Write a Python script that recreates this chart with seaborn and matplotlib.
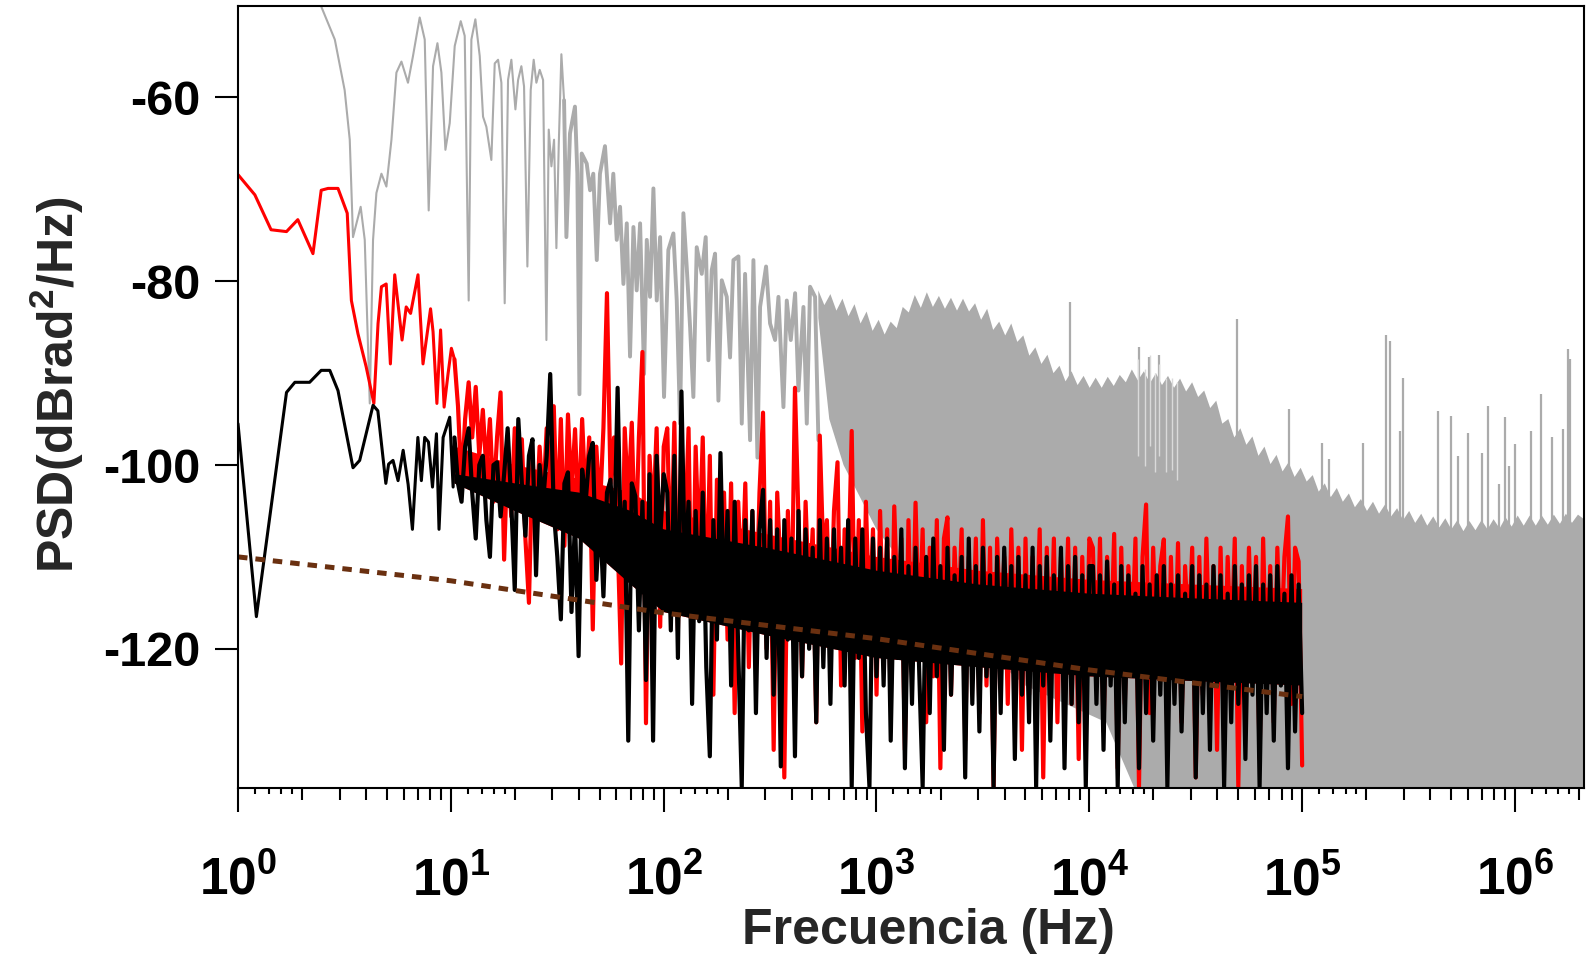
import numpy as np
import matplotlib
matplotlib.use("Agg")
import matplotlib.pyplot as plt
from matplotlib.ticker import FixedLocator, LogLocator, NullLocator, NullFormatter
import seaborn as sns

# ------------------------------------------------------------------ data
# grey spectrum, low/mid frequency part (Hz, dB)
gray_f = [2.0, 2.25, 2.46, 2.85, 3.17, 3.35, 3.47, 3.77, 3.94, 4.16,
          4.31, 4.47, 4.72, 4.98, 5.26, 5.55, 5.86, 6.29, 6.64, 7.14,
          7.54, 7.87, 8.25, 8.65, 9.03, 9.43, 9.88, 10.43, 11.13, 11.62,
          12.13, 12.49, 13.04, 13.67, 14.17, 14.69, 15.5, 16.08, 16.67, 17.28,
          17.91, 18.57, 19.25, 20.11, 20.7, 21.45, 22.08, 22.89, 23.73, 24.51,
          25.23, 26.16, 27.13, 28.12, 28.84, 29.69, 30.55, 31.33, 32.13, 33.07,
          34.04, 34.91, 36.3, 38.3, 39.3, 40.2, 41.2, 43.5, 45.1, 46.7,
          48.5, 50.2, 53.0, 54.4, 56.0, 58.0, 60.2, 62.4, 64.7, 67.1,
          69.5, 72.1, 74.7, 77.5, 80.9, 83.3, 86.3, 89.5, 92.8, 96.2,
          100.4, 105.2, 111.1, 115.2, 119.4, 123.8, 128.3, 133.1, 137.9, 143,
          151, 157.6, 162.3, 168.2, 174.4, 180.8, 187.5, 197.9, 205.1, 212.7,
          224.5, 232.8, 241.3, 254.7, 264.1, 275.8, 283.8, 302.8, 316.2, 333.9,
          346.2, 365.4, 378.8, 395.6, 414.6, 429.8, 453.7, 470.4, 487.5, 514.5,
          533.4]
gray_v = [-42, -46.5, -50.1, -53.7, -59.2, -64.6, -75.2, -71.9, -75.5, -93.3,
          -75.5, -70.4, -68.3, -69.7, -64.6, -57.3, -56.1, -58.4, -55.5, -51.3,
          -53.7, -72.3, -56.6, -54.1, -57.3, -65.7, -62.8, -54.4, -51.7, -53.3,
          -82.1, -53.7, -51.5, -55.5, -62.1, -63.2, -66.8, -56.3, -55.9, -58.4,
          -82.4, -58.1, -55.9, -61.3, -58.1, -56.6, -58.8, -78.4, -59.2, -55.9,
          -58.4, -57.0, -58.1, -86.4, -63.5, -67.5, -64.6, -76.4, -65.3, -55.3,
          -60.3, -75.2, -63.9, -61.0, -68.3, -92.3, -66.1, -67.2, -70.1, -68.3,
          -77.7, -68.3, -65.3, -69.3, -73.7, -68.3, -75.5, -71.9, -80.3, -73.7,
          -88.2, -74.1, -81.0, -73.7, -90.1, -75.5, -81.7, -69.9, -82.1, -75.2,
          -92.6, -76.6, -74.8, -82.1, -95.5, -72.6, -78.4, -85.0, -92.6, -76.3,
          -79.2, -75.2, -88.6, -78.8, -77.0, -93.0, -79.9, -81.7, -88.3, -77.7,
          -77.3, -95.5, -79.2, -97.3, -77.7, -99.2, -82.8, -78.4, -84.6, -86.4,
          -81.7, -93.7, -82.1, -86.4, -81.3, -91.9, -82.8, -95.5, -80.6, -81.7,
          -97.3]

# grey dense region: upper envelope on a log grid 533 Hz .. 2.11 MHz
gray_env_range = (533.0, 2.11e6)
gray_env_top = [-81.0, -82.6, -81.4, -83.2, -81.9, -83.8, -82.5, -84.6, -83.3, -85.4,
                -84.2, -85.8, -84.4, -85.1, -82.8, -83.4, -81.5, -82.9, -81.2, -82.8,
                -81.6, -83.0, -81.8, -83.2, -81.9, -83.3, -82.4, -84.2, -83.0, -85.3,
                -84.4, -85.9, -84.6, -86.6, -85.9, -88.1, -87.2, -89.0, -88.0, -90.0,
                -89.2, -90.9, -89.8, -91.3, -90.3, -91.6, -90.5, -91.6, -90.4, -91.4,
                -90.2, -91.0, -89.6, -90.8, -89.8, -91.1, -90.0, -91.3, -90.3, -91.6,
                -90.6, -92.0, -91.0, -92.6, -91.9, -93.8, -93.0, -95.5, -95.0, -97.0,
                -96.0, -97.8, -96.9, -99.0, -98.0, -99.9, -98.9, -100.7, -99.7, -101.3,
                -100.3, -101.8, -101.1, -102.9, -102.0, -103.5, -102.5, -104.0, -103.1, -104.6,
                -103.7, -105.0, -104.0, -105.3, -104.3, -105.6, -104.7, -106.0, -105.0, -106.3,
                -105.3, -106.6, -105.6, -106.8, -105.8, -107.0, -106.0, -107.2, -106.1, -107.1,
                -106.0, -107.0, -105.9, -106.9, -105.7, -106.7, -105.5, -106.6, -105.5, -106.6,
                -105.5, -106.5, -105.4, -106.4, -105.3, -106.3, -105.4, -105.9]
# lower edge of the grey region (from high to low frequency)
gray_floor_f = [2.11e6, 2.0e4, 1.2e4, 5000, 2000, 1000, 700, 600, 533]
gray_floor_v = [-140, -140, -128, -124, -116, -107, -100, -95, -84]

# isolated grey spikes
gray_spike_f = [8075, 17140, 19100, 21290, 49500, 86900, 124200, 133900, 193600,
                248100, 259300, 289000, 298400, 433300, 501500, 540800, 599300,
                701300, 744400, 843000, 899600, 940000, 1.0e6, 1.19e6, 1.328e6,
                1.496e6, 1.687e6, 1.77e6, 1.817e6]
gray_spike_v = [-82.3, -87.2, -88.3, -88.0, -84.1, -93.9, -97.6, -99.4, -97.6,
                -85.9, -86.5, -96.3, -90.5, -94.1, -94.7, -99.0, -96.5,
                -98.7, -93.6, -102.1, -94.8, -100.1, -97.7, -96.3, -92.3,
                -97.0, -96.1, -87.4, -88.5]
# light dips inside the grey region
gray_dip_f = [17020, 18210, 19220, 20380, 21320, 22800, 24420, 25780]
gray_dip_hi = [-88.5, -89.5, -88.0, -90.0, -89.0, -90.5, -90.5, -91.0]
gray_dip_lo = [-99.0, -100.1, -97.9, -100.8, -99.0, -100.8, -100.5, -101.6]

# red spectrum
red_lf_f = [1.0, 1.2, 1.43, 1.69, 1.91, 2.25, 2.46, 2.65, 2.95, 3.26,
            3.41, 3.66, 4.0, 4.35, 4.55, 4.72, 4.97, 5.2, 5.45, 5.9,
            6.17, 6.47, 7.01, 7.4, 8.03, 8.25, 8.6, 8.95, 9.3, 9.7, 10.06]
red_lf_v = [-68.4, -70.6, -74.4, -74.6, -73.3, -77.0, -70.1, -69.9, -69.9, -72.6,
            -82.1, -85.7, -89.3, -93.3, -84.6, -80.6, -80.3, -89.0, -79.3, -86.4,
            -82.8, -83.5, -79.3, -89.0, -83.0, -85.5, -93.3, -85.3, -93.7, -90.1, -87.3]
dense_range = (10.4, 1.0e5)   # log grid for the dense parts
red_d1 = [-88.5, -93.6, -102.3, -95, -91, -97, -91.5, -99, -94, -100.5,
          -95, -104, -97, -92.1, -110.3, -98, -105.6, -96, -103, -97.2,
          -108, -115, -99, -107, -98, -104, -96, -101, -93.6, -107,
          -95, -108.8, -94.5, -103, -96.1, -106, -95, -104, -97, -117.9,
          -98, -105, -96, -81.3, -102, -97, -108, -121.6, -96, -104,
          -95.4, -110, -97, -87.7, -128.1, -99, -106, -96, -117.6, -98]
red_d2 = [-96, -112, -95.4, -118, -97, -108, -96, -121, -98, -110,
          -97, -116, -99, -125, -101.6, -113, -103, -119, -102, -127,
          -104, -114, -102, -122, -105, -117, -103, -94.3, -120, -104,
          -131, -103, -112, -134, -105, -118, -91.6, -106, -123, -104,
          -115, -107, -128, -96.8, -110, -106, -119, -105, -99.7, -124,
          -107, -113, -96.3, -121, -106, -129, -104, -117, -107, -125]
red_d3 = [-105, -120, -107, -126, -104.5, -117, -108, -131, -106, -122,
          -104.1, -119, -107, -128, -109, -123, -106, -133, -108, -105.7,
          -125, -109, -118, -107, -130, -110, -121, -108, -127, -106,
          -124, -109, -135, -108, -119, -110, -126, -107, -122, -109,
          -131, -108, -125, -110, -120, -107, -134, -109, -123, -108,
          -128, -110, -121, -108, -126, -109, -132, -110, -124, -108]
red_d4 = [-109, -124, -108, -129, -110, -121, -107.5, -133, -109, -126,
          -111, -120, -108, -135, -110, -104.3, -127, -109, -122, -111,
          -108.1, -130, -110, -124, -108.5, -128, -111, -119, -109, -134,
          -110, -125, -108, -123, -111, -131, -109, -126, -110, -121,
          -108, -135, -111, -127, -109, -122, -110, -132, -108, -124,
          -111, -128, -109, -121, -110, -105.6, -126, -109, -110.5, -132.7]

# black spectrum
black_lf_f = [1.0, 1.22, 1.69, 1.85, 2.17, 2.46, 2.7, 2.95, 3.47, 3.73,
              4.31, 4.54, 4.95, 5.1, 5.35, 5.65, 5.97, 6.3, 6.6, 7.0,
              7.27, 7.54, 7.85, 8.2, 8.56, 8.8, 9.2, 9.88, 10.25]
black_lf_v = [-95.5, -116.5, -92.1, -91.0, -91.0, -89.7, -89.7, -91.9, -100.3, -99.5,
              -93.5, -94.1, -102.0, -99.9, -99.5, -101.7, -98.4, -102.1, -107.0, -97.0,
              -101.7, -97.0, -97.5, -102.4, -96.6, -107.0, -97.0, -94.8, -102.4]
black_d1 = [-97, -102, -104, -98, -96, -103, -108, -100, -99, -106,
            -110, -100, -99.7, -105.6, -101, -96, -104, -113.6, -95, -102,
            -107.7, -99, -97.2, -112, -100, -104, -99, -90.1, -105, -110,
            -116.8, -102, -100.8, -116, -106, -120.8, -100.5, -104, -99, -97.6,
            -112.5, -105, -114.3, -103, -101.6, -109, -91.6, -110.6, -104, -130,
            -102, -103.4, -118, -104, -123.4, -101, -130, -99, -108, -101]
black_d2 = [-103, -118, -99, -121, -92, -112, -104, -126, -105, -117,
            -103, -122, -131.7, -106, -119, -98.7, -116, -105, -124, -104,
            -120, -135, -106, -118, -105, -127, -107, -102.7, -121, -106,
            -125, -107, -132.8, -106, -119, -108, -131.7, -105, -123, -107,
            -120, -109, -128, -106, -122, -108, -126, -107, -119, -109,
            -124, -106, -135, -108, -121, -107, -127, -135, -108, -123]
black_d3 = [-109, -124, -108, -130, -110, -121, -107, -133, -111, -126,
            -109, -122, -135, -110, -127, -108, -123, -111, -131, -109,
            -125, -112, -120, -110, -134, -108, -126, -111, -129, -109,
            -123, -112, -135, -110, -127, -109, -121, -111, -132, -110,
            -125, -112, -128, -109, -135, -111, -124, -110, -130, -112,
            -122, -109, -133, -111, -126, -110, -128, -112, -135, -111]
black_d4 = [-111, -126, -112, -131, -110.5, -124, -113, -135, -111, -128,
            -112, -122, -114, -133, -111, -127, -113, -130, -112, -125,
            -111, -135, -113, -126, -112, -129, -114, -123, -111, -134,
            -112, -127, -113, -131, -111, -124, -112, -135, -114, -128,
            -111, -126, -113, -132, -112, -125, -111, -135, -113, -127,
            -112, -130, -111, -124, -114, -133, -112, -129, -113, -127]

# solid cores of the red / black noise bands
core_f = [10.4, 20, 40, 70, 100, 300, 1000, 3000, 1e4, 3e4, 1e5]
black_core_top = [-101, -102, -103, -105, -107, -109, -111.5, -113, -114, -114.5, -115]
black_core_bot = [-102, -105, -108, -113, -116, -118.5, -121, -122, -123, -123.5, -124]
red_core_top = [-98, -100, -101.5, -103, -105, -107.5, -110, -111.5, -112.5, -113, -113.5]

# brown dotted fit
fit_f = [1, 10, 100, 1e3, 1e4, 1e5]
fit_v = [-110.0, -112.6, -116.1, -118.9, -122.3, -125.2]

# axis ticks
x_major = [1, 10, 100, 1e3, 1e4, 1e5, 1e6]
y_major = [-60, -80, -100, -120]

# ------------------------------------------------------------------ style
sns.set_theme(style="ticks")
plt.rcParams.update({
    "font.family": ["Liberation Sans", "DejaVu Sans"],
    "font.weight": "bold",
    "axes.unicode_minus": False,
    "mathtext.fontset": "custom",
    "mathtext.rm": "Liberation Sans:bold",
    "mathtext.it": "Liberation Sans:bold",
    "mathtext.bf": "Liberation Sans:bold",
    "mathtext.sf": "Liberation Sans:bold",
    "mathtext.default": "bf",
    "axes.edgecolor": "black",
    "axes.linewidth": 1.5,
})

GRAY = "#ababab"
fig = plt.figure(figsize=(15.87, 9.57), dpi=100)
ax = fig.add_axes([0.14997, 0.17659, 0.84814, 0.81714])
ax.set_xscale("log")

# grey
env_f = np.geomspace(gray_env_range[0], gray_env_range[1], len(gray_env_top))
ax.fill(np.r_[env_f, gray_floor_f], np.r_[gray_env_top, gray_floor_v],
        color=GRAY, lw=0, zorder=1)
ax.vlines(gray_spike_f, -125, gray_spike_v, color=GRAY, lw=1.6, zorder=1)
ax.vlines(gray_dip_f, gray_dip_lo, gray_dip_hi, color="#dadada", lw=1.0, zorder=1.1)
sns.lineplot(x=gray_f[:61], y=gray_v[:61], sort=False, estimator=None,
             color=GRAY, lw=1.5, ax=ax, zorder=1.2)
sns.lineplot(x=gray_f[60:], y=gray_v[60:], sort=False, estimator=None,
             color=GRAY, lw=2.8, ax=ax, zorder=1.2)

dense_f = np.geomspace(dense_range[0], dense_range[1], 240)
cf = np.asarray(core_f, float)

# red
ax.fill(np.r_[cf, cf[::-1]], np.r_[red_core_top, black_core_bot[::-1]],
        color="#ff0000", lw=0, zorder=2)
red_dense = np.r_[red_d1, red_d2, red_d3, red_d4]
sns.lineplot(x=np.r_[red_lf_f, dense_f[:1]], y=np.r_[red_lf_v, red_dense[:1]],
             sort=False, estimator=None, color="#ff0000", lw=2.2, ax=ax, zorder=2)
sns.lineplot(x=dense_f, y=red_dense, sort=False, estimator=None,
             color="#ff0000", lw=3.0, ax=ax, zorder=2.1)

# black
ax.fill(np.r_[cf, cf[::-1]], np.r_[black_core_top, black_core_bot[::-1]],
        color="black", lw=0, zorder=3)
blk_dense = np.r_[black_d1, black_d2, black_d3, black_d4]
sns.lineplot(x=np.r_[black_lf_f, dense_f[:1]], y=np.r_[black_lf_v, blk_dense[:1]],
             sort=False, estimator=None, color="black", lw=2.2, ax=ax, zorder=3)
sns.lineplot(x=dense_f, y=blk_dense, sort=False, estimator=None,
             color="black", lw=3.0, ax=ax, zorder=3.1)

# brown dotted fit
sns.lineplot(x=fit_f, y=fit_v, sort=False, estimator=None, color="#6a3010",
             lw=3.6, linestyle=(0, (1.9, 1.6)), ax=ax, zorder=4)

# ------------------------------------------------------------------ axes
ax.set_xlim(1, 2.11e6)
ax.set_ylim(-135.15, -50.05)
ax.yaxis.set_major_locator(FixedLocator(y_major))
ax.yaxis.set_minor_locator(NullLocator())
ax.xaxis.set_major_locator(FixedLocator(x_major))
ax.xaxis.set_minor_locator(LogLocator(base=10, subs=np.arange(2, 10), numticks=20))
ax.xaxis.set_minor_formatter(NullFormatter())
ax.tick_params(axis="x", which="major", direction="out", length=17, width=1.5,
               pad=32, labelsize=37, top=False, bottom=True, colors="black")
ax.tick_params(axis="x", which="minor", direction="out", length=8.5, width=1.5,
               top=False, bottom=True, colors="black")
ax.tick_params(axis="y", which="major", direction="out", length=16.5, width=1.5,
               pad=10.5, labelsize=35, right=False, left=True, colors="black")
for s in ax.spines.values():
    s.set_visible(True)
    s.set_linewidth(1.5)
    s.set_color("black")
    s.set_zorder(10)

# short sub-minor ticks at 1.2, 1.4, 1.6, 1.8 of every decade
sub_ticks = [m * 10 ** k for k in range(7) for m in (1.2, 1.4, 1.6, 1.8)]
ax.vlines(sub_ticks, 0, -0.0075, transform=ax.get_xaxis_transform(),
          color="black", lw=1.5, clip_on=False, zorder=10)

ax.set_xlabel("Frecuencia (Hz)", fontsize=36, fontweight="bold")
ax.set_ylabel(r"PSD(dBrad$^{2}$/Hz)", fontsize=36, fontweight="bold")
ax.xaxis.set_label_coords(0.513, -0.153)
ax.yaxis.set_label_coords(-0.113, 0.515)

fig.savefig("out.png", dpi=100)
